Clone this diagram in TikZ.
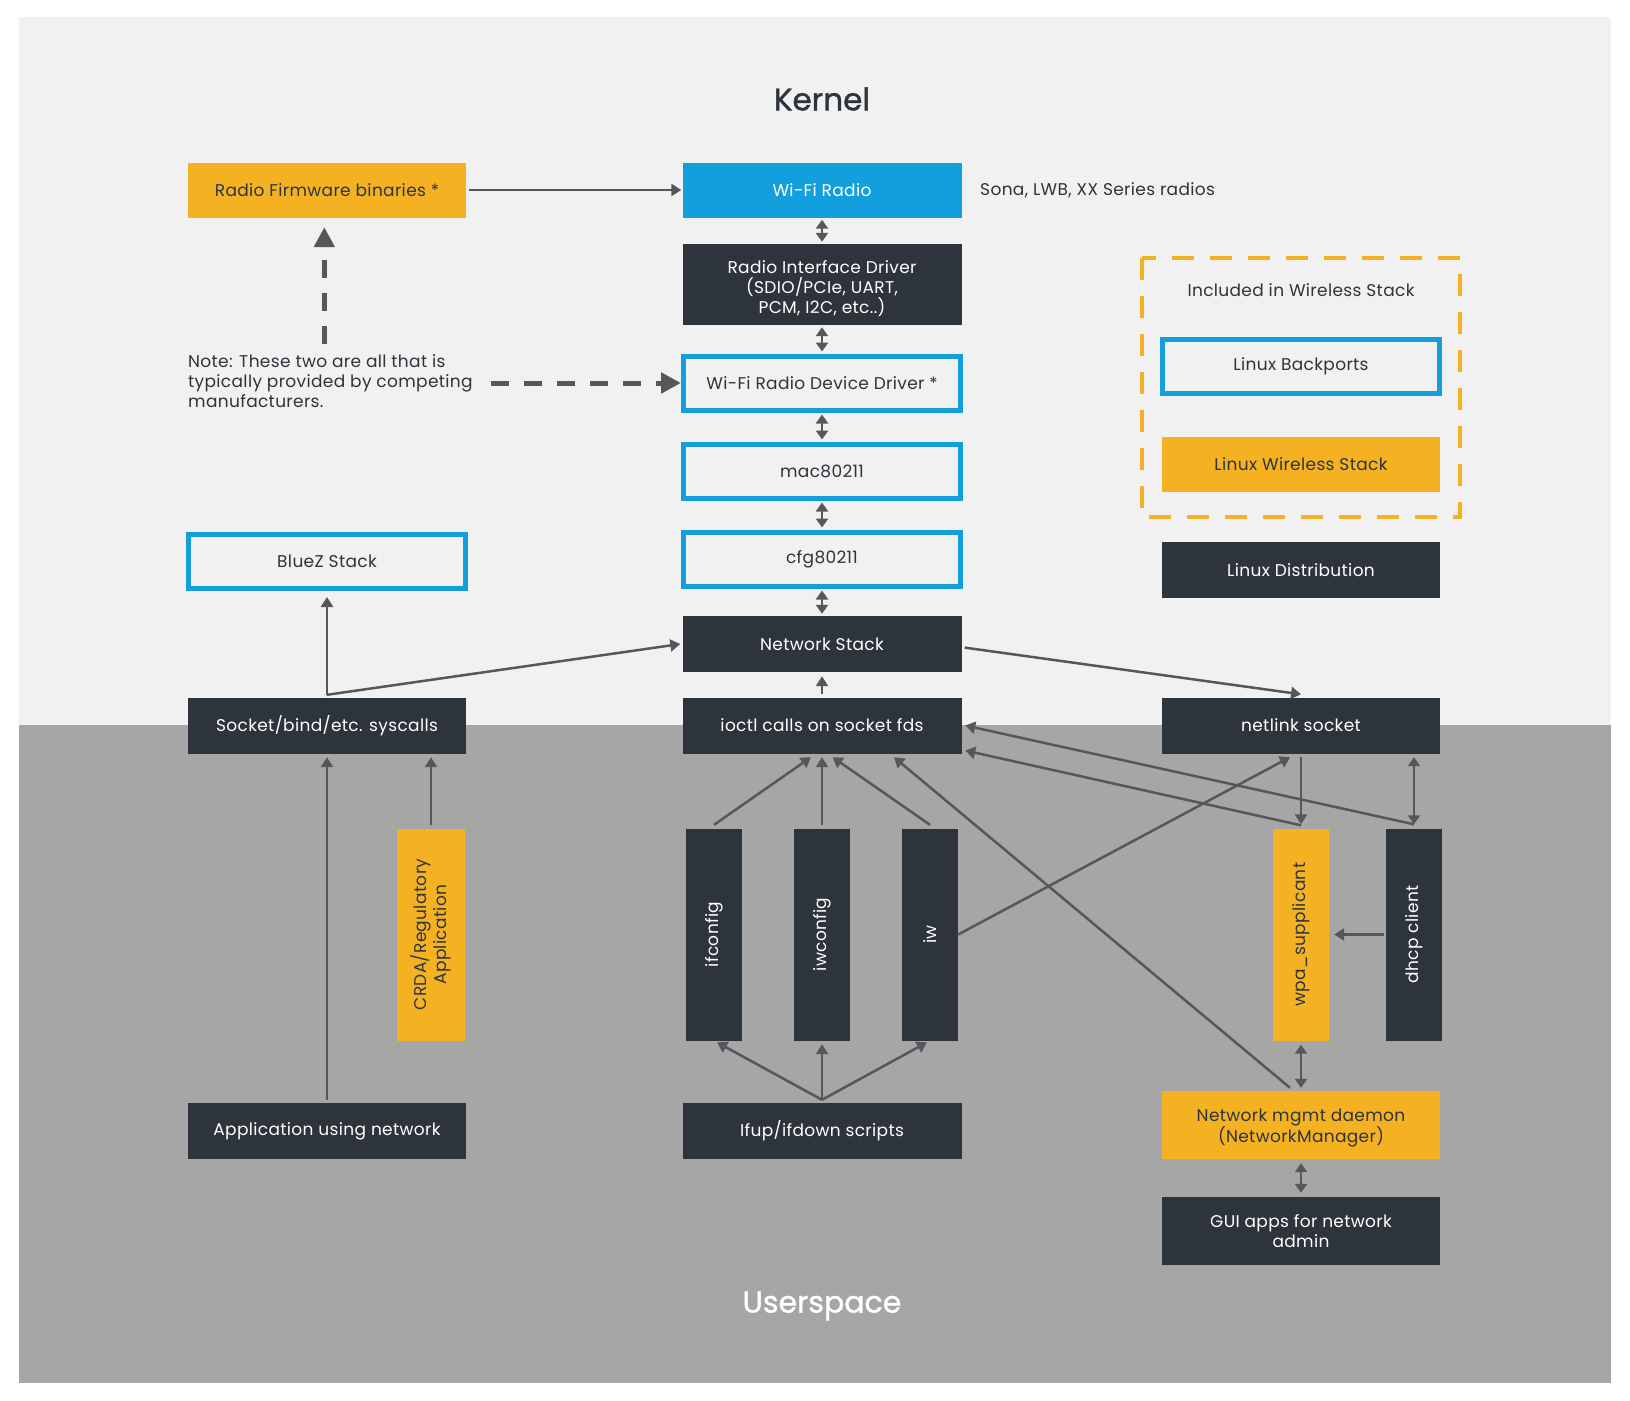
\documentclass[tikz,border=0pt]{standalone}
\usepackage{fontspec}
\setmainfont{Poppins}[LetterSpace=2]
\newfontfamily\headfont{Poppins}[FakeBold=1.2]
\usetikzlibrary{arrows.meta,calc}
\definecolor{orng}{HTML}{F4B223}
\definecolor{blu}{HTML}{139FDB}
\definecolor{dk}{HTML}{2E343B}
\definecolor{lightbg}{HTML}{F1F1F1}
\definecolor{graybg}{HTML}{A6A6A6}
\definecolor{arrc}{HTML}{56575A}
\newcommand{\fs}{\fontsize{17}{20.3}\selectfont}
\tikzset{
  box/.style={minimum width=279pt, minimum height=55pt, inner sep=0pt, font=\fs, align=center},
  darkbox/.style={box, fill=dk, text=white},
  orbox/.style={box, fill=orng, text=dk},
  bluebox/.style={box, fill=blu, text=white},
  outbox/.style={box, draw=blu, line width=5pt, minimum width=277pt, minimum height=54pt, text=dk},
  vbox/.style={rotate=90, minimum width=212pt, minimum height=56pt, inner sep=0pt, font=\fs, align=center},
  arr/.style={draw=arrc, line width=2.5pt, -{Triangle[length=10pt,width=12pt]}},
  darr/.style={draw=arrc, line width=2.5pt, {Triangle[length=9pt,width=12pt]}-{Triangle[length=9pt,width=12pt]}},
  dasharr/.style={draw=arrc, line width=5pt, dash pattern=on 18pt off 15pt, -{Triangle[length=20pt,width=20pt]}},
}
\begin{document}
\begin{tikzpicture}[x=1pt,y=-1pt]
\useasboundingbox (0,0) rectangle (1630,1400);
\fill[white] (0,0) rectangle (1630,1400);
\fill[lightbg] (19,17) rectangle (1611,724.5);
\fill[graybg] (19,724.5) rectangle (1611,1383);

\node[text=dk, font=\headfont\fontsize{31}{36}\selectfont] (kernel) at (822,99) {Kernel};
\node[text=white, font=\headfont\fontsize{30}{36}\selectfont] (user) at (822,1306) {Userspace};

% middle column
\node[orbox, minimum width=278pt] (fw) at (327,190) {Radio Firmware binaries *};
\node[bluebox] (wifi) at (822,190) {Wi-Fi Radio};
\node[anchor=west, text=dk, font=\fs, inner sep=0pt] (sona) at (980,190) {Sona, LWB, XX Series radios};
\node[darkbox, minimum height=81pt] (rid) at (822,284.5) {\rule{0pt}{21pt}Radio Interface Driver\\(SDIO/PCIe, UART,\\PCM, I2C, etc..)};
\node[outbox] (wdd) at (822,383) {Wi-Fi Radio Device Driver *};
\node[outbox] (mac) at (822,471) {mac80211};
\node[outbox] (cfg) at (822,559) {cfg80211};
\node[darkbox, minimum height=56pt] (ns) at (822,644) {Network Stack};
\node[darkbox, minimum height=56pt] (ioctl) at (822,725.5) {ioctl calls on socket fds};

% left column
\node[outbox] (bluez) at (327,561.5) {BlueZ Stack};
\node[darkbox, minimum width=278pt, minimum height=56pt] (sock) at (327,725.5) {Socket/bind/etc. syscalls};
\node[anchor=west, align=left, text=dk, font=\fs, inner sep=0pt] (note) at (188,381) {Note: These two are all that is\\typically provided by competing\\manufacturers.};

% right column
\draw[orng, line width=4pt, dash pattern=on 22pt off 16pt] (1142,258) rectangle (1460,517);
\node[text=dk, font=\fs] (incl) at (1301,290) {Included in Wireless Stack};
\node[outbox] (backp) at (1301,366.5) {Linux Backports};
\node[orbox, minimum width=278pt] (lws) at (1301,464.5) {Linux Wireless Stack};
\node[darkbox, minimum width=278pt, minimum height=56pt] (distro) at (1301,570) {Linux Distribution};
\node[darkbox, minimum width=278pt, minimum height=56pt] (netlink) at (1301,725.5) {netlink socket};

% vertical boxes
\node[vbox, fill=orng, text=dk, minimum height=68pt] (crda) at (431,934.5) {CRDA/Regulatory\\Application};
\node[vbox, fill=dk, text=white] (ifc) at (714,934.5) {ifconfig};
\node[vbox, fill=dk, text=white] (iwc) at (822,934.5) {iwconfig};
\node[vbox, fill=dk, text=white] (iwn) at (930,934.5) {iw};
\node[vbox, fill=orng, text=dk] (wpa) at (1301,934.5) {wpa\_supplicant};
\node[vbox, fill=dk, text=white] (dhcp) at (1414,934.5) {dhcp client};

% bottom row
\node[darkbox, minimum width=278pt, minimum height=56pt] (app) at (327,1131) {Application using network};
\node[darkbox, minimum height=56pt] (ifup) at (822,1131) {Ifup/ifdown scripts};
\node[orbox, minimum width=278pt, minimum height=68pt] (nmd) at (1301,1125) {\rule{0pt}{18.5pt}Network mgmt daemon\\(NetworkManager)};
\node[darkbox, minimum width=278pt, minimum height=68pt] (gui) at (1301,1231) {GUI apps for network\\admin};

% connectors
\draw[arr, shorten <=3pt, shorten >=1pt] (fw.east) -- (wifi.west);
\draw[darr, shorten <=2pt, shorten >=2pt] (wifi.south) -- (rid.north);
\draw[darr, shorten <=2pt, shorten >=2pt] (rid.south) -- (wdd.north);
\draw[darr, shorten <=2pt, shorten >=2pt] (wdd.south) -- (mac.north);
\draw[darr, shorten <=2pt, shorten >=2pt] (mac.south) -- (cfg.north);
\draw[darr, shorten <=2pt, shorten >=2pt] (cfg.south) -- (ns.north);
\draw[arr, shorten <=3pt, shorten >=4pt] (ioctl.north) -- (ns.south);

\coordinate (sj) at ([yshift=2.5pt]sock.north);
\draw[arr, shorten >=6pt] (sj) -- (bluez.south);
\draw[arr] (sj) -- ([xshift=-2pt]ns.west);
\draw[arr] ([xshift=3pt,yshift=-3.6pt]ns.east) -- ([yshift=3pt]netlink.north);

\draw[arr, shorten <=3pt, shorten >=3.5pt] (app.north) -- (sock.south);
\draw[arr, shorten <=3.5pt, shorten >=3.5pt] (crda.east) -- (sock.south -| crda.east);

\draw[arr] ([yshift=3.5pt]ifc.east) -- ([xshift=-11pt,yshift=-3.5pt]ioctl.south);
\draw[arr, shorten <=3.5pt, shorten >=3.5pt] (iwc.east) -- (ioctl.south);
\draw[arr] ([yshift=3.5pt]iwn.east) -- ([xshift=10.6pt,yshift=-3.5pt]ioctl.south);
\draw[arr] ([xshift=-11pt,yshift=3pt]nmd.north) -- ([xshift=72pt,yshift=-3.5pt]ioctl.south);
\draw[arr] (iwn.south) -- ([xshift=-11pt,yshift=-3.5pt]netlink.south);
\draw[arr, shorten <=3.5pt, shorten >=4pt] (netlink.south) -- (wpa.east);
\draw[arr] ([yshift=3pt]wpa.east) -- ([xshift=3.5pt,yshift=-25pt]ioctl.east);
\draw[arr] ([yshift=4pt]dhcp.east) -- ([xshift=3.5pt]ioctl.east);
\draw[darr, shorten <=3.5pt, shorten >=4pt] (netlink.south -| dhcp.east) -- (dhcp.east);
\draw[arr, shorten <=2pt, shorten >=5pt] (dhcp.north) -- (wpa.south);

\coordinate (ij) at ([yshift=3pt]ifup.north);
\draw[arr, shorten >=3.5pt] (ij) -- (ifc.west);
\draw[arr, shorten >=3.5pt] (ij) -- (iwc.west);
\draw[arr, shorten >=3.5pt] (ij) -- (iwn.west);
\draw[darr, shorten <=4pt, shorten >=3pt] (wpa.west) -- (nmd.north);
\draw[darr, shorten <=4pt, shorten >=4pt] (nmd.south) -- (gui.north);

% dashed note arrows
\coordinate (vx) at ([xshift=-2.7pt]fw.south);
\coordinate (vy) at ([yshift=10pt]note.north);
\draw[dasharr, shorten >=9.5pt] (vx |- vy) -- (vx);
\coordinate (hstart) at ([xshift=18pt]note.east);
\draw[dasharr] (hstart |- wdd.west) -- (wdd.west);
\end{tikzpicture}
\end{document}
